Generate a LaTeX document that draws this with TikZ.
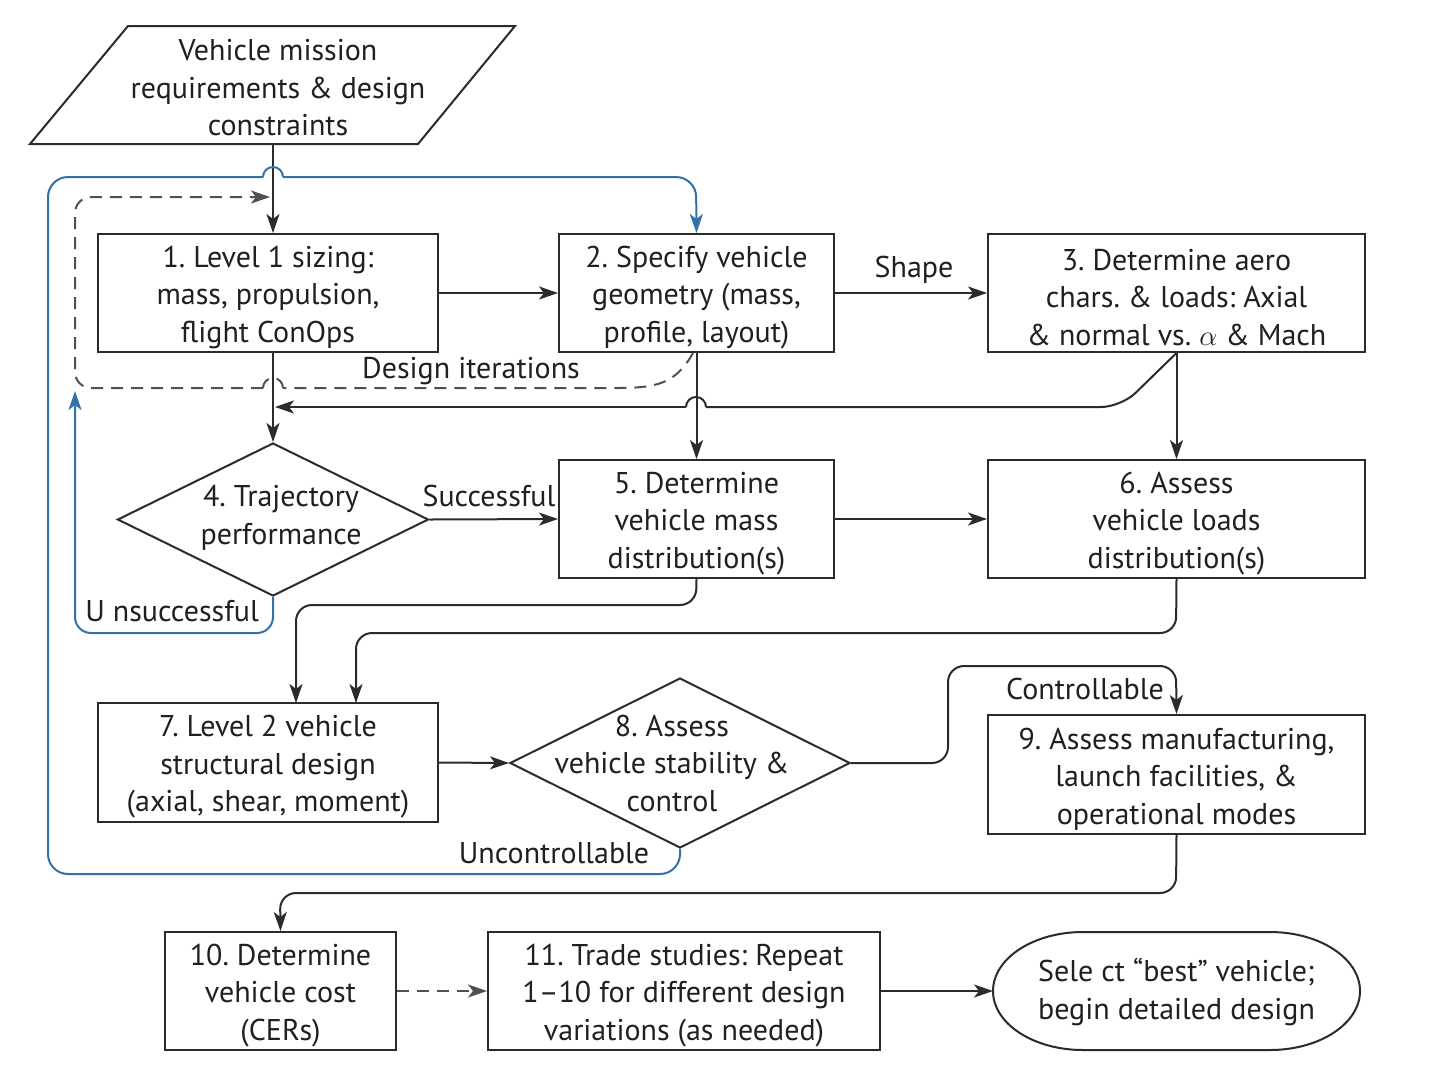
\documentclass[tikz,border=0pt]{standalone}
\usepackage{fontspec}
\setmainfont{PT Sans}
\usetikzlibrary{arrows.meta,shapes.geometric,calc}
\definecolor{ink}{HTML}{231F20}
\definecolor{linec}{HTML}{2B2B2B}
\definecolor{bluec}{HTML}{3471AA}
\definecolor{dashc}{HTML}{505050}
\frenchspacing
\newcommand\tstrut{\rule{0pt}{15pt}}
\begin{document}
\begin{tikzpicture}[x=0.5pt,y=-0.5pt,
  font=\fontsize{15}{18.75}\selectfont\frenchspacing, text=ink,
  box/.style={draw=linec, line width=1pt, align=center, inner sep=0pt, minimum width=#1, minimum height=59pt},
  dia/.style={draw=linec, line width=1pt, diamond, inner sep=0pt},
  txt/.style={align=center, inner sep=0pt},
  conn/.style={draw=linec, line width=1pt},
  arr/.style={conn, -{Stealth[length=9.5pt,width=6.5pt,inset=2.5pt]}},
  bconn/.style={draw=bluec, line width=1pt},
  barr/.style={bconn, -{Stealth[length=9.5pt,width=6.5pt,inset=2.5pt]}},
  dconn/.style={draw=dashc, line width=1pt, dash pattern=on 6pt off 4pt},
  darr/.style={dconn, -{Stealth[length=9.5pt,width=6.5pt,inset=2.5pt]}},
]
\useasboundingbox (0,0) rectangle (1433,1072);
\fill[white] (0,0) rectangle (1433,1072);

% input parallelogram
\draw[draw=linec, line width=1pt] (128,26) -- (515,26) -- (418,144) -- (30,144) -- cycle;
\node[txt] (in) at (278,88) {Vehicle mission\\requirements \& design\\constraints};
\coordinate (inb) at (273,144);

% boxes
\node[box=170pt] (b1) at (268,293) {\tstrut 1. Level 1 sizing:\\mass, propulsion,\\flight ConOps};
\node[box=137.5pt] (b2) at (696.5,293) {\tstrut 2. Specify vehicle\\geometry (mass,\\profile, layout)};
\node[box=188.5pt] (b3) at (1176.5,293) {\tstrut 3. Determine aero\\chars. \& loads: Axial\\\& normal vs. $\alpha$ \& Mach};
\node[dia, minimum width=155.5pt, minimum height=76.5pt] (d4) at (273,519.5) {};
\node[txt] (d4t) at (281,518) {4. Trajectory\\performance};
\node[box=137.5pt] (b5) at (696.5,519) {\tstrut 5. Determine\\vehicle mass\\distribution(s)};
\node[box=188.5pt] (b6) at (1176.5,519) {\tstrut 6. Assess\\vehicle loads\\distribution(s)};
\node[box=170pt, minimum height=59.5pt] (b7) at (268,762.5) {\tstrut 7. Level 2 vehicle\\structural design\\(axial, shear, moment)};
\node[dia, minimum width=170pt, minimum height=85pt] (d8) at (680,763) {};
\node[txt] (d8t) at (672,763) {8. Assess\\vehicle stability \&\\control};
\node[box=188.5pt, minimum height=59.5pt] (b9) at (1176.5,774.5) {\tstrut 9. Assess manufacturing,\\launch facilities, \&\\operational modes};
\node[box=115.5pt] (b10) at (280.5,991) {\tstrut 10. Determine\\vehicle cost\\(CERs)};
\node[box=196pt] (b11) at (684,991) {\tstrut 11. Trade studies: Repeat\\1--10 for different design\\variations (as needed)};

% end terminator
\draw[draw=linec, line width=1pt] (1083,932) -- (1270,932)
  arc[start angle=90,end angle=-90,x radius=45pt,y radius=29.5pt] -- (1083,1050)
  arc[start angle=270,end angle=90,x radius=45pt,y radius=29.5pt] -- cycle;
\node[txt] (endn) at (1176.5,992) {Sele ct “best” vehicle;\\begin detailed design};
\coordinate (endL) at (993,991);

% labels
\node[txt] (lshape) at (914,270) {Shape};
\node[txt] (ldi) at (471,371) {Design iterations};
\node[txt] (lsucc) at (489,496) {Successful};
\node[txt] (lunsucc) at (172,611) {U nsuccessful};
\node[txt] (lunc) at (554,853) {Uncontrollable};
\node[txt] (lcon) at (1085,689) {Controllable};

% main flow
\draw[arr] (inb) -- (inb |- b1.north);
\draw[arr] (b1.east) -- (b2.west);
\draw[arr] (b2.east) -- (b3.west);
\draw[arr] (b1.south -| d4.north) -- (d4.north);
\draw[arr] (b2.south) -- (b5.north);
\draw[arr] (b3.south) -- (b6.north);
\draw[arr] (d4.east) -- (b5.west);
\draw[arr] (b5.east) -- (b6.west);
\draw[arr, rounded corners=8pt] (b5.south) -- (696,605) -- (296,605) -- (296,703);
\draw[arr, rounded corners=8pt] (b6.south) -- (1176,633) -- (356,633) -- (356,703);
\draw[arr] (b7.east) -- (d8.west);
\draw[arr, rounded corners=8pt] (d8.east) -- (948,763) -- (948,666) -- (1176,666) -- (b9.north);
\draw[arr, rounded corners=8pt] (b9.south) -- (1176,893) -- (280,893) -- (b10.north);
\draw[darr] (b10.east) -- (b11.west);
\draw[arr] (b11.east) -- (endL);

% feedback from box 3 with hop over box 2 line
\draw[conn, rounded corners=10pt] (b3.south) -- (1121,407) -- (706,407);
\draw[conn] (706,407) arc[start angle=0,end angle=180,radius=5pt];
\draw[arr] (686,407) -- (275,407);

% design iterations dashed loop
\coordinate (dstart) at (693,353);
\draw[dconn] (dstart) .. controls (675,385) and (655,388) .. (615,388) -- (283,388);
\draw[dconn] (283,388) arc[start angle=0,end angle=180,radius=5pt];
\draw[darr, rounded corners=8pt] (263,388) -- (75,388) -- (75,197) -- (270,197);

% unsuccessful loop
\draw[barr, rounded corners=8pt] (d4.south) -- (273,633) -- (75,633) -- (75,391);

% uncontrollable loop with hop
\draw[bconn, rounded corners=10pt] (d8.south) -- (680,874) -- (48,874) -- (48,177) -- (263,177);
\draw[bconn] (263,177) arc[start angle=180,end angle=0,radius=5pt];
\draw[barr, rounded corners=10pt] (283,177) -- (696,177) -- (b2.north);
\end{tikzpicture}
\end{document}
